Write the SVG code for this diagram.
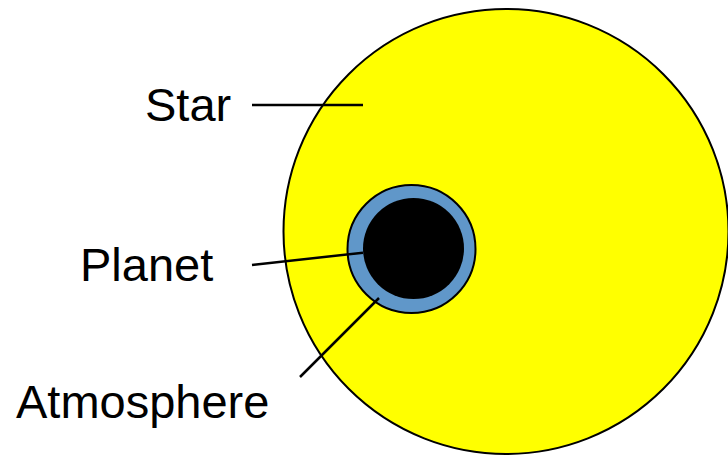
<svg xmlns="http://www.w3.org/2000/svg" width="728" height="456" viewBox="0 0 728 456">
<style>
.lbl{font-family:"Liberation Sans",Arial,sans-serif;font-size:47px;fill:#000}
.ln{stroke:#000;stroke-width:2.5;fill:none}
</style>
<rect width="728" height="456" fill="#fff"/>
<g id="star"><circle cx="506" cy="231.5" r="222.5" fill="#ffff00" stroke="#000" stroke-width="2"/></g>
<g id="atmosphere"><circle cx="411.5" cy="249" r="64" fill="#6097c9" stroke="#000" stroke-width="2"/></g>
<g id="planet"><circle cx="413.5" cy="248.5" r="50.5" fill="#000"/></g>
<g id="connectors">
<line class="ln" x1="252" y1="105" x2="363" y2="105"/>
<line class="ln" x1="252" y1="265" x2="363" y2="252.7"/>
<line class="ln" x1="300" y1="377" x2="379" y2="298"/>
</g>
<g id="labels">
<text class="lbl" x="145" y="121">Star</text>
<text class="lbl" x="80" y="281">Planet</text>
<text class="lbl" x="16" y="418">Atmosphere</text>
</g>
</svg>
